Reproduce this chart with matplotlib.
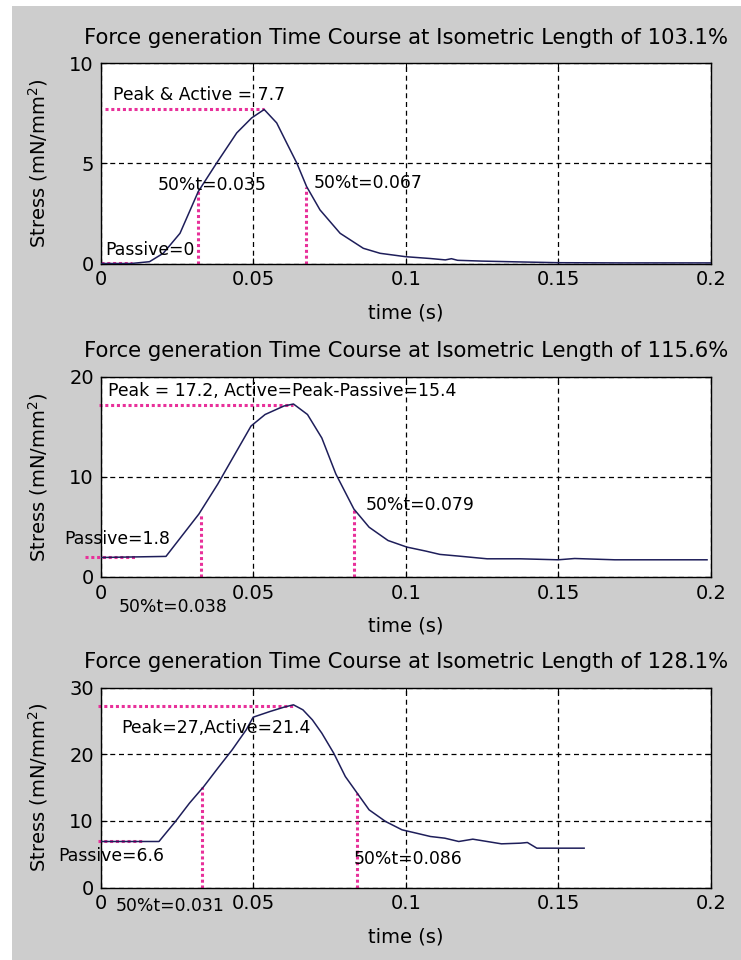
import matplotlib
matplotlib.use('Agg')
import matplotlib.pyplot as plt
from matplotlib.patches import Rectangle

# ---------------- data ----------------
titles = ["Force generation Time Course at Isometric Length of 103.1%",
          "Force generation Time Course at Isometric Length of 115.6%",
          "Force generation Time Course at Isometric Length of 128.1%"]

t1 = [0, 0.010, 0.016, 0.0205, 0.026, 0.032, 0.038, 0.0446, 0.0495, 0.0536, 0.0577, 0.061,
      0.0643, 0.0675, 0.0719, 0.0785, 0.0861, 0.0916, 0.100, 0.108, 0.113, 0.115, 0.117,
      0.125, 0.137, 0.150, 0.170, 0.200]
s1 = [0, 0, 0.09, 0.51, 1.51, 3.6, 5.02, 6.53, 7.28, 7.7, 7.03, 6.02,
      5.02, 3.85, 2.68, 1.51, 0.76, 0.51, 0.34, 0.25, 0.18, 0.24, 0.16,
      0.12, 0.08, 0.04, 0.03, 0.03]

t2 = [0, 0.0214, 0.0322, 0.0384, 0.0446, 0.0493, 0.0539, 0.0601, 0.0632, 0.0678, 0.0725,
      0.0771, 0.083, 0.088, 0.0942, 0.1004, 0.1066, 0.1112, 0.1174, 0.1267, 0.1376, 0.150,
      0.1554, 0.1686, 0.1988]
s2 = [1.95, 2.06, 6.3, 9.3, 12.6, 15.1, 16.25, 17.1, 17.3, 16.25, 13.9,
      10.3, 6.8, 4.98, 3.65, 2.99, 2.59, 2.26, 2.09, 1.82, 1.82, 1.72,
      1.85, 1.72, 1.72]

t3 = [0, 0.0191, 0.0245, 0.0291, 0.0338, 0.0384, 0.0431, 0.0477, 0.050, 0.0555, 0.0601,
      0.0632, 0.0663, 0.0694, 0.0725, 0.0764, 0.0802, 0.0841, 0.088, 0.0934, 0.0988, 0.1035,
      0.1081, 0.1128, 0.1174, 0.122, 0.1267, 0.1314, 0.1376, 0.1399, 0.143, 0.1484, 0.1585]
s3 = [6.9, 6.9, 9.9, 12.65, 15.15, 17.9, 20.65, 23.65, 25.55, 26.4, 27.05,
      27.4, 26.65, 25.15, 23.15, 20.15, 16.65, 14.15, 11.65, 9.9, 8.65, 8.15,
      7.65, 7.4, 6.9, 7.25, 6.9, 6.55, 6.65, 6.75, 5.9, 5.9, 5.9]

# reference markers: peak line, passive line, 50% time lines
peak_start = [0.0014, -0.0005, -0.001]
peak_t = [0.0536, 0.0632, 0.0632]
peak_v = [7.7, 17.25, 27.25]
passive_start = [0.0, -0.005, -0.001]
passive_end = [0.0102, 0.012, 0.0136]
passive_v = [0.05, 1.99, 7.05]
t50_rise = [0.032, 0.033, 0.0333]
t50_rise_v = [3.7, 6.3, 15.15]
t50_fall = [0.0673, 0.083, 0.0841]
t50_fall_v = [3.8, 6.8, 14.15]

ymax = [10, 20, 30]
yticks = [[0, 5, 10], [0, 10, 20], [0, 10, 20, 30]]
xticks = [0, 0.05, 0.1, 0.15, 0.2]
xticklabels = ["0", "0.05", "0.1", "0.15", "0.2"]

# ---------------- figure ----------------
W, H = 741, 960
fig = plt.figure(figsize=(W / 100, H / 100), dpi=100)
fig.patch.set_facecolor('white')
fig.add_artist(Rectangle((12 / W, 0), 1 - 12 / W, 1 - 6 / H, transform=fig.transFigure,
                         facecolor='#cdcdcd', edgecolor='none', zorder=-10))

plt.rcParams['font.family'] = ['DejaVu Sans']

curve_c = '#1e1e5a'
pink = '#e8309a'
dots = (0, (1, 0.9))

left = 100.7 / W
width = 610 / W
height = 200 / H
bottoms = [1 - 263.5 / H, 1 - 577 / H, 1 - 887.5 / H]

series = [(t1, s1), (t2, s2), (t3, s3)]

axes = []
for i in range(3):
    ax = fig.add_axes([left, bottoms[i], width, height])
    axes.append(ax)
    ax.set_facecolor('white')
    t, s = series[i]
    ax.plot(t, s, color=curve_c, lw=1.1, zorder=3)
    ax.plot([peak_start[i], peak_t[i]], [peak_v[i], peak_v[i]],
            ls=dots, color=pink, lw=2.2, zorder=2, clip_on=False)
    ax.plot([passive_start[i], passive_end[i]], [passive_v[i], passive_v[i]],
            ls=dots, color=pink, lw=2.2, zorder=2, clip_on=False)
    ax.plot([t50_rise[i], t50_rise[i]], [0, t50_rise_v[i]], ls=dots, color=pink, lw=2.2, zorder=2)
    ax.plot([t50_fall[i], t50_fall[i]], [0, t50_fall_v[i]], ls=dots, color=pink, lw=2.2, zorder=2)

    ax.set_xlim(0, 0.2)
    ax.set_ylim(0, ymax[i])
    ax.set_xticks(xticks)
    ax.set_xticklabels(xticklabels)
    ax.set_yticks(yticks[i])
    ax.grid(True, color='black', ls=(0, (4, 3)), lw=0.9)
    ax.tick_params(direction='in', length=4, width=0.8, labelsize=14, top=True, right=True,
                   pad=5, colors='black')
    for sp in ax.spines.values():
        sp.set_color('black')
        sp.set_linewidth(1.0)
    ax.set_xlabel('time (s)', fontsize=14)
    ax.xaxis.set_label_coords(0.5, -0.2)
    ax.set_ylabel('Stress (mN/mm$^2$)', fontsize=14)
    ax.yaxis.set_label_coords(-0.083, 0.5)
    ax.text(0.5, 1.128, titles[i], transform=ax.transAxes, ha='center', va='center',
            fontsize=15.2)

afs = 12.4
a1, a2, a3 = axes
a1.text(0.0041, 8.4, 'Peak & Active = 7.7', fontsize=afs, va='center', ha='left', zorder=4)
a1.text(0.0186, 3.9, '50%t=0.035', fontsize=afs, va='center', ha='left', zorder=4)
a1.text(0.0697, 4.0, '50%t=0.067', fontsize=afs, va='center', ha='left', zorder=4)
a1.text(0.0014, 0.68, 'Passive=0', fontsize=afs, va='center', ha='left', zorder=4)

a2.text(0.0025, 18.57, 'Peak = 17.2, Active=Peak-Passive=15.4', fontsize=afs, va='center',
        ha='left', zorder=4)
a2.text(0.0868, 7.2, '50%t=0.079', fontsize=afs, va='center', ha='left', zorder=4)
a2.text(-0.0119, 3.81, 'Passive=1.8', fontsize=afs, va='center', ha='left', zorder=4)
a2.text(0.0059, -2.99, '50%t=0.038', fontsize=afs, va='center', ha='left', zorder=4)

a3.text(0.0067, 23.9, 'Peak=27,Active=21.4', fontsize=afs, va='center', ha='left', zorder=4)
a3.text(-0.0139, 4.75, 'Passive=6.6', fontsize=afs, va='center', ha='left', zorder=4)
a3.text(0.083, 4.25, '50%t=0.086', fontsize=afs, va='center', ha='left', zorder=4)
a3.text(0.0048, -2.75, '50%t=0.031', fontsize=afs, va='center', ha='left', zorder=4)

fig.savefig('out.png', dpi=100, facecolor=fig.get_facecolor())
